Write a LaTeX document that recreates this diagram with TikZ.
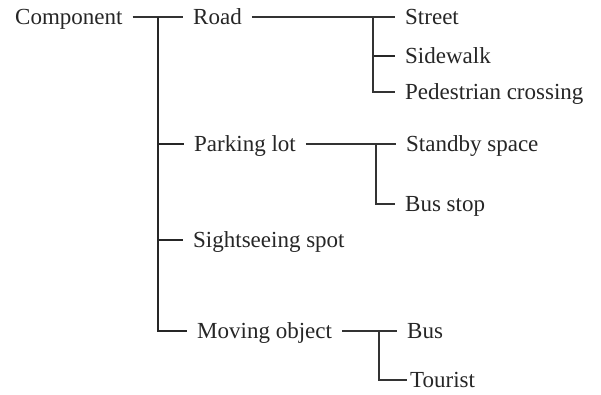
\documentclass[tikz,border=0pt]{standalone}
\usepackage{fontspec}
\setmainfont{Liberation Serif}
\begin{document}
\begin{tikzpicture}[x=1pt,y=-1pt,
  lbl/.style={anchor=west,inner xsep=10pt,inner ysep=0pt,text height=15pt,text depth=0pt,
    font=\fontsize{23}{27}\selectfont,text=black!85},
  conn/.style={draw=black!80,line width=1.2pt},
  trunk/.style={draw=black!85,line width=1.6pt}]
\useasboundingbox[fill=white] (0,0) rectangle (601,394);
% level 0
\node[lbl] (comp) at (5,17) {Component};
% level 1
\node[lbl] (road) at (183,17) {Road};
\node[lbl] (park) at (184,144) {Parking lot};
\node[lbl] (sight) at (183,240) {Sightseeing spot};
\node[lbl] (mov) at (187,331) {Moving object};
% level 2
\node[lbl] (street) at (395,17) {Street};
\node[lbl] (side) at (395,56) {Sidewalk};
\node[lbl] (ped) at (395,92) {Pedestrian crossing};
\node[lbl] (stand) at (396,144) {Standby space};
\node[lbl] (busstop) at (395,204) {Bus stop};
\node[lbl] (bus) at (397,331) {Bus};
\node[lbl,inner xsep=3pt] (tour) at (407,380) {Tourist};
% junctions
\coordinate (j0) at (158,17);
\coordinate (j1) at (373,17);
\coordinate (j2) at (376,144);
\coordinate (j3) at (379,331);
% connectors
\draw[conn] (comp.east) -- (road.west);
\draw[trunk] (j0) |- (park.west);
\draw[trunk] (j0) |- (sight.west);
\draw[trunk] (j0) |- (mov.west);
\draw[conn] (road.east) -- (street.west);
\draw[trunk] (j1) |- (side.west);
\draw[conn] (j1) |- (ped.west);
\draw[conn] (park.east) -- (stand.west);
\draw[conn] (j2) |- (busstop.west);
\draw[conn] (mov.east) -- (bus.west);
\draw[conn] (j3) |- (tour.west);
\end{tikzpicture}
\end{document}
